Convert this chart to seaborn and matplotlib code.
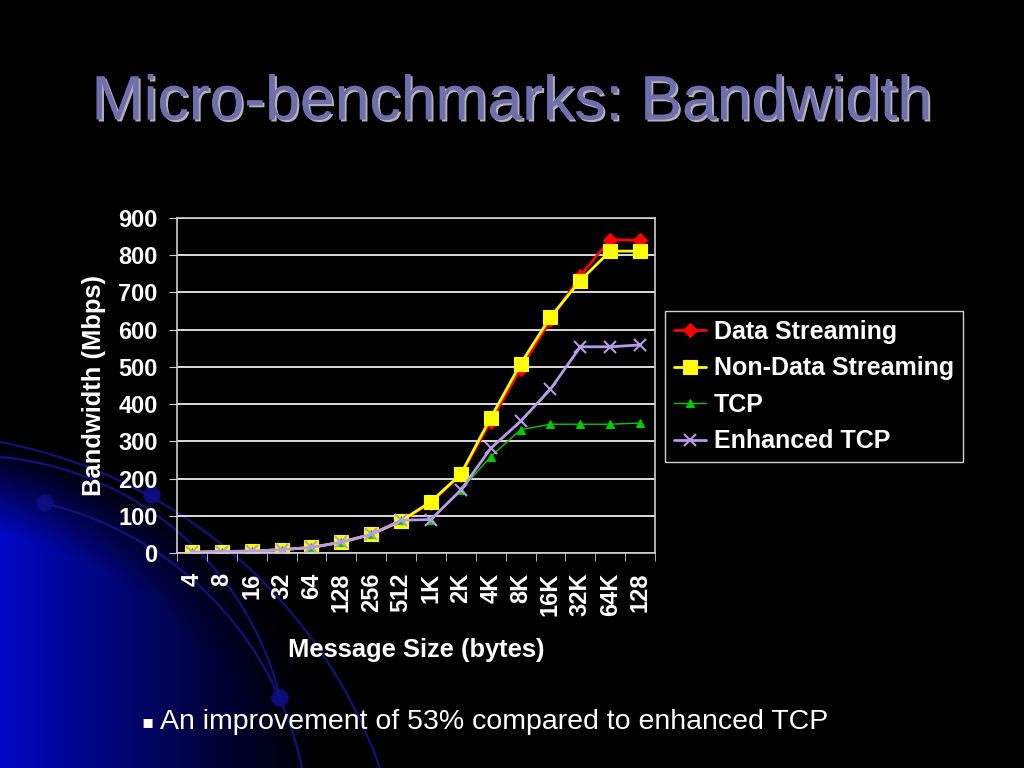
import numpy as np
import pandas as pd
import matplotlib
matplotlib.use('Agg')
import matplotlib.pyplot as plt
import matplotlib.patheffects as pe
from matplotlib.patches import Arc, Circle
import seaborn as sns

# message sizes (x categories, as printed on the slide)
sizes = ['4', '8', '16', '32', '64', '128', '256', '512', '1K', '2K', '4K', '8K', '16K', '32K', '64K', '128']
# bandwidth in Mbps
data_streaming = [2, 4, 5, 9, 15, 29, 50, 86, 135, 210, 353, 495, 625, 745, 842, 840]
non_data_streaming = [2, 4, 5, 9, 15, 29, 50, 86, 138, 212, 363, 508, 634, 732, 811, 811]
tcp = [2, 4, 5, 9, 15, 29, 50, 88, 90, 169, 259, 331, 346, 346, 346, 349]
enhanced_tcp = [2, 4, 5, 9, 15, 29, 50, 88, 90, 169, 281, 354, 440, 554, 554, 559]

series = ['Data Streaming', 'Non-Data Streaming', 'TCP', 'Enhanced TCP']
values = [data_streaming, non_data_streaming, tcp, enhanced_tcp]
colors = ['#ff0000', '#ffff00', '#00cc00', '#b89be8']
markers = ['D', 's', '^', 'x']
msizes = [7, 10, 6, 9]
lwidths = [2, 2, 1, 2]


def arc_through(ax, p1, p2, p3, **kw):
    # circle through three points (pixel coords), drawn between p1 and p3
    (x1, y1), (x2, y2), (x3, y3) = p1, p2, p3
    d = 2 * (x1 * (y2 - y3) + x2 * (y3 - y1) + x3 * (y1 - y2))
    ux = ((x1**2 + y1**2) * (y2 - y3) + (x2**2 + y2**2) * (y3 - y1) + (x3**2 + y3**2) * (y1 - y2)) / d
    uy = ((x1**2 + y1**2) * (x3 - x2) + (x2**2 + y2**2) * (x1 - x3) + (x3**2 + y3**2) * (x2 - x1)) / d
    r = np.hypot(x1 - ux, y1 - uy)
    a1 = np.arctan2(y1 - uy, x1 - ux)
    a3 = np.arctan2(y3 - uy, x3 - ux)
    t = np.linspace(min(a1, a3), max(a1, a3), 200)
    ax.plot(ux + r * np.cos(t), uy + r * np.sin(t), **kw)
    return ux, uy, r


sns.set_style('dark')
plt.rcParams['font.family'] = ['Liberation Sans', 'DejaVu Sans']

fig = plt.figure(figsize=(10.24, 7.68), dpi=100, facecolor='black')

# slide background: blue swoosh in the lower-left corner
bg = fig.add_axes([0, 0, 1, 1], zorder=-10)
bg.set_xlim(0, 1024)
bg.set_ylim(768, 0)
bg.axis('off')
cx, cy, R = arc_through(bg, (0, 442), (240, 560), (380, 768), color='#12127a', lw=1.6)
arc_through(bg, (0, 457), (207, 560), (280, 697), color='#12127a', lw=1.6)
arc_through(bg, (43, 503), (207, 593), (302, 768), color='#12127a', lw=1.6)
yy, xx = np.mgrid[0:768, 0:1024]
dist = np.hypot(xx - cx, yy - cy)
inten = np.clip(1 - xx / 330, 0, 1) ** 1.2 * np.clip((R - dist) / 90, 0, 1) * 0.78
img = np.zeros((768, 1024, 3))
img[..., 2] = inten
img[..., 1] = inten * 0.04
bg.imshow(img, extent=(0, 1024, 768, 0), aspect='auto', zorder=-1)
bg.set_xlim(0, 1024)
bg.set_ylim(768, 0)
for (px, py) in [(45, 503), (152, 495), (280, 698)]:
    bg.add_patch(Circle((px, py), 8, color='#0c0c80'))

# title
fig.text(0.5, 0.866, 'Micro-benchmarks: Bandwidth', ha='center', va='center',
         fontsize=45, color='#6f6fb0',
         path_effects=[pe.withSimplePatchShadow(offset=(1.5, -1.5), shadow_rgbFace='white', alpha=0.7),
                       pe.Normal()])

# chart
ax = fig.add_axes([177 / 1024, 1 - 553 / 768, 478 / 1024, 335 / 768])
ax.set_facecolor('none')
x = np.arange(len(sizes))
for name, vals, c, m, ms, lw in zip(series, values, colors, markers, msizes, lwidths):
    sns.lineplot(x=x, y=vals, ax=ax, color=c, marker=m, markersize=ms, linewidth=lw,
                 markeredgecolor=c, markeredgewidth=1.5 if m == 'x' else 0.8, label=name)

ax.set_xlim(-0.5, len(sizes) - 0.5)
ax.set_ylim(0, 900)
ax.set_yticks(range(0, 901, 100))
ax.set_xticks(x)
ax.set_xticklabels(sizes, rotation=90)
ax.set_xticks(np.arange(-0.5, len(sizes)), minor=True)
ax.tick_params(axis='x', which='major', length=0, pad=14, labelsize=17, labelcolor='white')
ax.tick_params(axis='x', which='minor', length=6, color='#d0d0d0', direction='out', bottom=True)
ax.tick_params(axis='y', length=6, color='#d0d0d0', direction='out', left=True, labelsize=17,
               labelcolor='white', pad=8)
for lab in ax.get_xticklabels() + ax.get_yticklabels():
    lab.set_fontweight('bold')
ax.grid(axis='y', color='white', linewidth=1.2)
ax.grid(axis='x', visible=False)
for s in ax.spines.values():
    s.set_visible(True)
    s.set_color('#d0d0d0')
    s.set_linewidth(1.2)
ax.set_xlabel('Message Size (bytes)', fontsize=18.4, fontweight='bold', color='white', labelpad=16)
ax.set_ylabel('Bandwidth (Mbps)', fontsize=18.4, fontweight='bold', color='white', labelpad=9)

handles, labels = ax.get_legend_handles_labels()
ax.get_legend().remove()
leg = fig.legend(handles, labels, loc='upper left', bbox_to_anchor=(665 / 1024, 1 - 311 / 768),
                 frameon=True, fancybox=False, facecolor='black', edgecolor='#d0d0d0', framealpha=1,
                 prop={'size': 18, 'weight': 'bold'}, labelcolor='white', handlelength=1.3,
                 handletextpad=0.3, labelspacing=0.5, borderpad=0.35, borderaxespad=0)

# bullet line
fig.text(141 / 1024, 1 - 722 / 768, '\u25aa', fontsize=13, color='white', va='center',
         family=['DejaVu Sans'])
fig.text(160 / 1024, 1 - 722 / 768, 'An improvement of 53% compared to enhanced TCP',
         fontsize=20.5, color='white', va='center')

fig.savefig('out.png', dpi=100, facecolor='black')
